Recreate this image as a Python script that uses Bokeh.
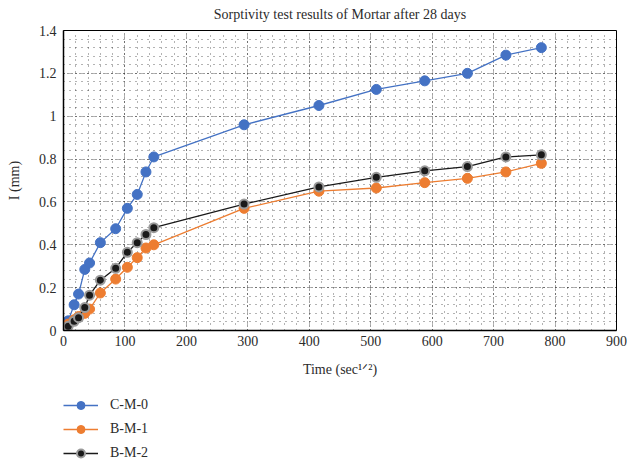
from bokeh.plotting import figure
from bokeh.layouts import column
from bokeh.models import (FixedTicker, CustomJSTickFormatter, Legend, LegendItem, Range1d)
from bokeh.embed import file_html
from bokeh.resources import INLINE

# ---- data (x = square root of elapsed time in seconds) ----
time_sqrt = [7.7, 17.3, 24.5, 34.6, 42.4, 60.0, 84.9, 103.9, 120.0, 134.2, 147.0,
             293.9, 415.7, 509.1, 587.9, 657.3, 720.0, 777.7]
cm0 = [0.045, 0.12, 0.17, 0.285, 0.315, 0.41, 0.475, 0.57, 0.635, 0.74, 0.81,
       0.96, 1.05, 1.125, 1.165, 1.20, 1.285, 1.32]
bm1 = [0.03, 0.05, 0.065, 0.08, 0.10, 0.175, 0.24, 0.295, 0.34, 0.385, 0.40,
       0.57, 0.65, 0.665, 0.69, 0.71, 0.74, 0.78]
bm2 = [0.02, 0.043, 0.06, 0.107, 0.165, 0.235, 0.29, 0.365, 0.41, 0.448, 0.48,
       0.59, 0.67, 0.715, 0.745, 0.765, 0.81, 0.82]
series_names = ["C-M-0", "B-M-1", "B-M-2"]
x_ticks = [0, 100, 200, 300, 400, 500, 600, 700, 800, 900]
y_ticks = [0, 0.2, 0.4, 0.6, 0.8, 1.0, 1.2, 1.4]
x_minor = [v for v in range(0, 901, 20)]
y_minor = [round(i * 0.04, 2) for i in range(0, 36)]

SERIF = "Liberation Serif"
TXT = "#2b2b2b"
blue, orange, black = "#4472C4", "#ED7D31", "#1a1a1a"
series_values = [cm0, bm1, bm2]
styles = [(blue, blue, 10, 1), (orange, orange, 10, 1), (black, "#9a9a9a", 9, 2)]

p = figure(width=627, height=380, output_backend="svg", toolbar_location=None,
           x_range=Range1d(0, 900), y_range=Range1d(0, 1.4),
           min_border_left=63, min_border_right=11, min_border_top=30,
           min_border_bottom=50)

p.title.text = "Sorptivity test results of Mortar after 28 days"
p.title.align = "center"
p.title.vertical_align = "top"
p.title.text_font = SERIF
p.title.text_font_size = "14px"
p.title.text_font_style = "normal"
p.title.text_color = TXT
p.title.standoff = 13

p.xaxis.ticker = FixedTicker(ticks=x_ticks, minor_ticks=x_minor)
p.yaxis.ticker = FixedTicker(ticks=y_ticks, minor_ticks=y_minor)
p.yaxis.formatter = CustomJSTickFormatter(code="return String(Number(tick.toFixed(2)));")

for ax in (p.xaxis, p.yaxis):
    ax.major_tick_out = 0
    ax.major_tick_in = 0
    ax.minor_tick_out = 0
    ax.minor_tick_in = 0
    ax.axis_line_color = "#000000"
    ax.axis_line_width = 1.5
    ax.major_label_text_font = SERIF
    ax.major_label_text_font_size = "14px"
    ax.major_label_text_color = TXT
    ax.axis_label_text_font = SERIF
    ax.axis_label_text_font_size = "14px"
    ax.axis_label_text_font_style = "normal"
    ax.axis_label_text_color = TXT
p.xaxis.major_label_standoff = 5
p.yaxis.major_label_standoff = 7

p.yaxis.axis_label = "I (mm)"
p.yaxis.axis_label_standoff = 14
p.xaxis.axis_label = "Time (sec\u00b9\u141f\u00b2)"
p.xaxis.axis_label_standoff = 13

p.outline_line_color = "#000000"
p.outline_line_width = 1

p.xgrid.ticker = FixedTicker(ticks=x_ticks, minor_ticks=x_minor)
p.ygrid.ticker = FixedTicker(ticks=y_ticks, minor_ticks=y_minor)
for g in (p.xgrid, p.ygrid):
    g.grid_line_color = "#000000"
    g.grid_line_dash = "1 3"
    g.grid_line_alpha = 0.75
    g.minor_grid_line_color = "#000000"
    g.minor_grid_line_dash = "1 5"
    g.minor_grid_line_alpha = 0.6

for vals, (fc, lc, sz, lw) in zip(series_values, styles):
    p.line(time_sqrt, vals, line_color=fc, line_width=1.3)
    p.scatter(time_sqrt, vals, size=sz, fill_color=fc, line_color=lc, line_width=lw)

# ---- legend strip below the chart (its frame is aligned with the chart's frame) ----
pl = figure(width=627, height=84, output_backend="svg", toolbar_location=None,
            x_range=Range1d(-1, 0), y_range=Range1d(-1, 0), min_border=0)
pl.xaxis.visible = False
pl.yaxis.visible = False
pl.grid.visible = False
pl.outline_line_color = None

items = []
for name, vals, (fc, lc, sz, lw) in zip(series_names, series_values, styles):
    # same series, but outside this strip's visible range: only the legend glyphs show
    lr = pl.line(time_sqrt, vals, line_color=fc, line_width=1.3)
    sr = pl.scatter(time_sqrt, vals, size=sz, fill_color=fc, line_color=lc, line_width=lw)
    items.append(LegendItem(label=name, renderers=[lr, sr]))

legend = Legend(items=items, location=(0, 0), orientation="vertical",
                glyph_width=35, glyph_height=20, label_height=23, label_standoff=12,
                spacing=1, padding=0, margin=0,
                background_fill_alpha=0, border_line_alpha=0,
                label_text_font=SERIF, label_text_font_size="14px", label_text_color=TXT)
pl.add_layout(legend, "center")

layout = column(p, pl, spacing=0)
open("out.html", "w").write(file_html(layout, INLINE))
